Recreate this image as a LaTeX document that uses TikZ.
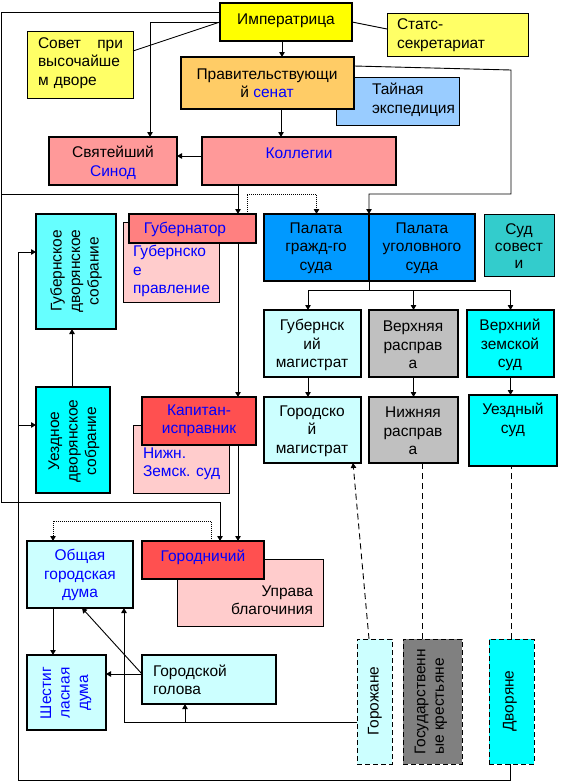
\documentclass[tikz,border=0pt]{standalone}
\usepackage{fontspec}
\setmainfont{Liberation Sans}
\usetikzlibrary{fit,arrows.meta}
\newcommand\myfs{\fontsize{15.5}{18.5}\selectfont}
\definecolor{tblue}{HTML}{0000FF}
\definecolor{cYel}{HTML}{FFFF00}
\definecolor{cPYel}{HTML}{FFFF66}
\definecolor{cOra}{HTML}{FFCC66}
\definecolor{cLBlue}{HTML}{99CCFF}
\definecolor{cRose}{HTML}{FF9999}
\definecolor{cSalm}{HTML}{FF8080}
\definecolor{cPink}{HTML}{FFCCCC}
\definecolor{cRed}{HTML}{FF5050}
\definecolor{cCy2}{HTML}{66FFFF}
\definecolor{cCyan}{HTML}{00FFFF}
\definecolor{cPal}{HTML}{0099FF}
\definecolor{cTeal}{HTML}{33CCCC}
\definecolor{cPCy}{HTML}{CCFFFF}
\definecolor{cGray}{HTML}{C0C0C0}
\definecolor{cDGray}{HTML}{808080}
\tikzset{
  tk/.style={draw, line width=2.4pt, inner sep=0pt, outer sep=0pt},
  tn/.style={draw, line width=0.9pt, inner sep=0pt, outer sep=0pt},
  td/.style={draw, line width=0.9pt, dash pattern=on 5pt off 3pt, inner sep=0pt, outer sep=0pt},
  txt/.style={inner sep=0pt, outer sep=0pt, align=center, font=\myfs},
  rot/.style={txt, rotate=90},
  conn/.style={line width=0.9pt},
  arr/.style={conn, -{Triangle[length=5pt,width=5.5pt]}},
  dotline/.style={dash pattern=on 1pt off 1pt},
  dashline/.style={dash pattern=on 6pt off 4pt},
}
\begin{document}
\begin{tikzpicture}[x=1pt,y=-1pt]
\useasboundingbox (0,0) rectangle (561,782);
\fill[white] (0,0) rectangle (561,782);

% ---------- boxes ----------
\node[tk, fill=cYel, fit={(220,3) (352,41)}] (imp) {};
\node[tn, fill=cPYel, fit={(27,31) (133,98)}] (sovet) {};
\node[tn, fill=cPYel, fit={(387,13) (528,56)}] (stats) {};
\node[tn, fill=cLBlue, fit={(336,77) (459,125)}] (taina) {};
\node[tk, fill=cOra, fit={(181,57) (354,109)}] (senat) {};
\node[tk, fill=cRose, fit={(49,137) (177,185)}] (sinod) {};
\node[tk, fill=cRose, fit={(202,137) (396,185)}] (koll) {};

\node[tn, fill=cPink, fit={(123,222) (219,302)}] (gubpr) {};
\node[tk, fill=cSalm, fit={(129,214) (256,243)}] (gubr) {};
\node[tk, fill=cCy2, fit={(36,214) (116,329)}] (gubsob) {};
\node[tk, fill=cCyan, fit={(36,387) (110,493)}] (uezsob) {};
\node[tn, fill=cPink, fit={(133,425) (229,493)}] (nzs) {};
\node[tk, fill=cRed, fit={(142,397) (256,445)}] (kap) {};

\node[tk, fill=cPal, fit={(264,214) (369,281)}] (pgr) {};
\node[tk, fill=cPal, fit={(369,214) (475,281)}] (pug) {};
\node[tn, fill=cTeal, fit={(484,214) (554,276)}] (sovest) {};
\node[tk, fill=cPCy, fit={(264,310) (361,377)}] (gmag) {};
\node[tk, fill=cGray, fit={(369,310) (458,377)}] (vras) {};
\node[tk, fill=cCyan, fit={(467,310) (554,377)}] (vzs) {};
\node[tk, fill=cPCy, fit={(264,397) (361,463)}] (gormag) {};
\node[tk, fill=cGray, fit={(369,397) (458,463)}] (nras) {};
\node[tk, fill=cCyan, fit={(469,395) (557,466)}] (uezsud) {};

\node[tk, fill=cPCy, fit={(27,541) (133,608)}] (obd) {};
\node[tn, fill=cPink, fit={(177,559) (323,626)}] (uprava) {};
\node[tk, fill=cRed, fit={(142,541) (264,579)}] (gorn) {};
\node[tk, fill=cPCy, fit={(27,655) (106,730)}] (shest) {};
\node[tk, fill=cPCy, fit={(142,655) (276,704)}] (golova) {};
\node[td, fill=cPCy, fit={(357,639) (392,764)}] (gorozh) {};
\node[td, fill=cDGray, fit={(403,639) (462,764)}] (krest) {};
\node[td, fill=cCyan, fit={(489,639) (534,764)}] (dvor) {};

% ---------- texts ----------
\node[txt] (imp-t) at (286,21) {Императрица};
\node[txt, anchor=west, text width=85pt, align=left] (sovet-t) at (38,63) {Совет\hfill при\\высочайше\\м дворе};
\node[txt, anchor=west, align=left] (stats-t) at (397,35) {Статс-\\секретариат};
\node[txt] (senat-t) at (267,83) {Правительствующи\\й \textcolor{tblue}{сенат}};
\node[txt, anchor=west, align=left] (taina-t) at (372,100) {Тайная\\экспедиция};
\node[txt] (sinod-t) at (113,163) {Святейший\\\textcolor{tblue}{Синод}};
\node[txt, text=tblue] (koll-t) at (299,153) {Коллегии};

\node[txt, text=tblue] (gubr-t) at (185,229) {Губернатор};
\node[txt, text=tblue, anchor=west, align=left] (gubpr-t) at (133,271) {Губернско\\е\\правление};
\node[rot] (gubsob-t) at (76,271) {Губернское\\дворянское\\собрание};
\node[rot] (uezsob-t) at (74,441) {Уездное\\дворянское\\собрание};
\node[txt, text=tblue] (kap-t) at (199,421) {Капитан-\\исправник};
\node[txt, text=tblue, anchor=west, align=left] (nzs-t) at (143,464) {Нижн.\\Земск. суд};

\node[txt] (pgr-t) at (316,248) {Палата\\гражд-го\\суда};
\node[txt] (pug-t) at (422,248) {Палата\\уголовного\\суда};
\node[txt, font=\fontsize{15.5}{17}\selectfont] (sovest-t) at (519,246) {Суд\\совест\\и};
\node[txt] (gmag-t) at (312,345) {Губернск\\ий\\магистрат};
\node[txt] (vras-t) at (413,345) {Верхняя\\расправ\\а};
\node[txt] (vzs-t) at (510,345) {Верхний\\земской\\суд};
\node[txt] (gormag-t) at (312,431) {Городско\\й\\магистрат};
\node[txt] (nras-t) at (413,431) {Нижняя\\расправ\\а};
\node[txt] (uezsud-t) at (513,420) {Уездный\\суд};

\node[txt, text=tblue] (obd-t) at (80,575) {Общая\\городская\\дума};
\node[txt, text=tblue] (gorn-t) at (203,557) {Городничий};
\node[txt, anchor=east, align=right] (uprava-t) at (313,600) {Управа\\благочиния};
\node[rot, text=tblue] (shest-t) at (66,693) {Шестиг\\ласная\\дума};
\node[txt, anchor=west, align=left] (golova-t) at (153,680) {Городской\\голова};
\node[rot] (gorozh-t) at (375,701) {Горожане};
\node[rot, align=left] (krest-t) at (431,702) {Государственн\\ые крестьяне};
\node[rot] (dvor-t) at (510,701) {Дворяне};

% ---------- connectors ----------
\draw[arr] (imp.south -| 282,0) -- (senat.north -| 282,0);
\draw[arr] (senat.south -| 281,0) -- (koll.north -| 281,0);
\draw[arr] (koll.west |- 0,156) -- (sinod.east |- 0,156);
\draw[arr] (imp.west) -| (sinod.north -| 150,0);
\draw[conn] (imp.west) -- (sovet.east |- 0,51);
\draw[conn] (imp.east) -- (stats.west |- 0,29);

% outer left frame
\draw[arr] (imp.west |- 0,12) -| (1,502) -| (gorn.north -| 220,0);
\coordinate (j1) at (1,194);
\draw[conn] (j1) -- (238,194);
\draw[arr] (koll.south -| 238,0) -- (gubr.north -| 238,0);
\draw[arr] (gubr.south -| 238,0) -- (kap.north -| 238,0);
\draw[arr] (kap.south -| 238,0) -- (gorn.north -| 238,0);

% dotted governor -> chamber
\draw[arr, dotline] (gubr.north -| 247,0) -- (247,194) -- (pgr.north |- 0,194) -- (pgr.north);

% senate -> criminal chamber
\draw[arr] (senat.east |- 0,66) -- (511,70) -- (511,194) -- (pug.north west |- 0,194) -- (pug.north west);

% chambers -> courts
\coordinate (fork) at (369,290);
\draw[conn] (pgr.south east) -- (fork);
\draw[arr] (fork) -| (gmag.north -| 308,0);
\draw[arr] (fork) -| (vras.north);
\draw[arr] (fork) -| (vzs.north);
\draw[arr] (gmag.south -| 308,0) -- (gormag.north -| 308,0);
\draw[arr] (vras.south) -- (nras.north);
\draw[arr] (vzs.south) -- (vzs.south |- uezsud.north);

% nobility assemblies
\draw[arr] (uezsob.north -| 72,0) -- (gubsob.south -| 72,0);
\draw[arr] (dvor.south -| 510,0) |- (18,780) |- (gubsob.west |- 0,252);
\coordinate (j2) at (18,425);
\draw[arr] (j2) -- (uezsob.west |- 0,425);

% town
\draw[arr] (gorozh.west |- 0,722) -| (obd.south -| 124,0);
\coordinate (j3) at (185,722);
\draw[arr] (j3) -- (golova.south -| 185,0);
\draw[arr] (golova.west |- 0,674) -- (shest.east |- 0,674);
\draw[arr] (golova.west |- 0,674) -- (obd.south -| 82,0);
\draw[arr] (obd.south -| 53,0) -- (shest.north -| 53,0);
\draw[arr, dotline] (gorn.north -| 211,0) -- (211,521) -- (53,521) -- (obd.north -| 53,0);

% estates
\draw[arr, dashline] (gorozh.north -| 369,0) -- (gormag.south -| 353,0);
\draw[conn, dashline] (krest.north -| 422,0) -- (nras.south -| 422,0);
\draw[conn, dashline] (dvor.north -| 511,0) -- (uezsud.south -| 511,0);
\end{tikzpicture}
\end{document}
